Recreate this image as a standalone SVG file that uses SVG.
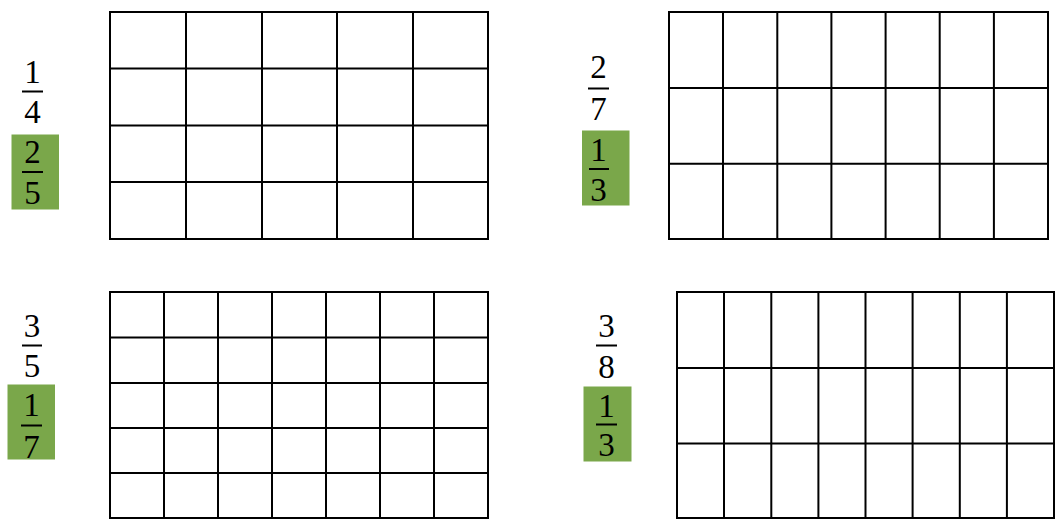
<svg xmlns="http://www.w3.org/2000/svg" width="1056" height="519" viewBox="0 0 1056 519">
<style>
.g{fill:none;stroke:#000;stroke-width:2}
.box{fill:#7AA74A}
.t{font-family:"Liberation Serif","Times New Roman",Times,serif;font-size:33px;fill:#000;text-anchor:middle}
.bar{stroke:#000;stroke-width:2}
</style>
<rect width="1056" height="519" fill="#fff"/>
<g id="grid1" class="g">
<rect x="110" y="12" width="378" height="227"/>
<path d="M186 12V239M262 12V239M337 12V239M413 12V239M110 68.5H488M110 125.5H488M110 182H488"/>
</g>
<g id="grid2" class="g">
<rect x="669" y="12" width="379" height="227"/>
<path d="M723 12V239M777.3 12V239M831.4 12V239M885.6 12V239M939.7 12V239M993.9 12V239M669 88H1048M669 163.7H1048"/>
</g>
<g id="grid3" class="g">
<rect x="110" y="292" width="378" height="226"/>
<path d="M164 292V518M218 292V518M272 292V518M326 292V518M380 292V518M434 292V518M110 337.5H488M110 383H488M110 428H488M110 473H488"/>
</g>
<g id="grid4" class="g">
<rect x="677" y="292" width="377" height="226"/>
<path d="M724 292V518M771.3 292V518M818.4 292V518M865.5 292V518M912.6 292V518M959.8 292V518M1006.9 292V518M677 368H1054M677 443.5H1054"/>
</g>
<g id="frac1">
<text class="t" x="32.5" y="83">1</text>
<line class="bar" x1="22" y1="91.5" x2="43" y2="91.5"/>
<text class="t" x="32.5" y="123">4</text>
</g>
<g id="frac1b">
<rect class="box" x="11.5" y="134.5" width="47.5" height="75"/>
<text class="t" x="32.5" y="162.5">2</text>
<line class="bar" x1="22" y1="172" x2="43" y2="172"/>
<text class="t" x="32.5" y="204">5</text>
</g>
<g id="frac2">
<text class="t" x="598.5" y="78">2</text>
<line class="bar" x1="588" y1="88.5" x2="609" y2="88.5"/>
<text class="t" x="598.5" y="120">7</text>
</g>
<g id="frac2b">
<rect class="box" x="582" y="130.5" width="47.5" height="75"/>
<text class="t" x="598.5" y="161">1</text>
<line class="bar" x1="589" y1="169" x2="609" y2="169"/>
<text class="t" x="598.5" y="200.5">3</text>
</g>
<g id="frac3">
<text class="t" x="32" y="337">3</text>
<line class="bar" x1="22" y1="345.5" x2="42" y2="345.5"/>
<text class="t" x="32" y="377">5</text>
</g>
<g id="frac3b">
<rect class="box" x="7.5" y="384.5" width="47.5" height="75"/>
<text class="t" x="31.5" y="416">1</text>
<line class="bar" x1="21" y1="425.5" x2="42" y2="425.5"/>
<text class="t" x="31.5" y="458">7</text>
</g>
<g id="frac4">
<text class="t" x="606.5" y="337">3</text>
<line class="bar" x1="596" y1="345.5" x2="617" y2="345.5"/>
<text class="t" x="606.5" y="377.5">8</text>
</g>
<g id="frac4b">
<rect class="box" x="583.5" y="386.5" width="48" height="75"/>
<text class="t" x="606.5" y="417">1</text>
<line class="bar" x1="596" y1="424.5" x2="617" y2="424.5"/>
<text class="t" x="606.5" y="455.5">3</text>
</g>
</svg>
